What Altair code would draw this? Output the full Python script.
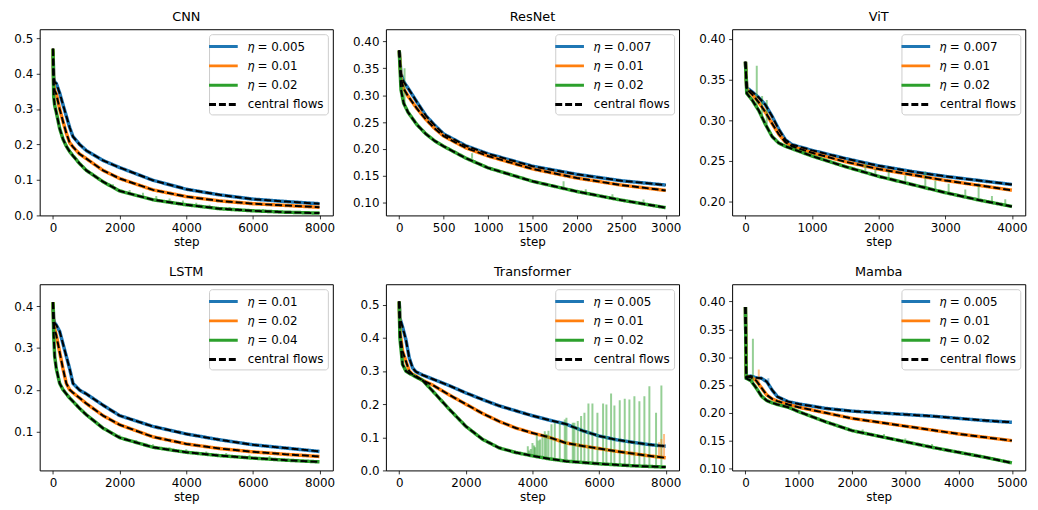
import altair as alt
import pandas as pd

BLUE, ORANGE, GREEN = "#1f77b4", "#ff7f0e", "#2ca02c"
FONT = "DejaVu Sans"
ETA = "𝜂"

# ---------------- CNN ----------------
CNN_LR = ["0.005", "0.01", "0.02"]
CNN_STEP = [0, 20, 50, 100, 200, 300, 400, 500, 600, 800, 1000, 1500, 2000, 3000, 4000, 5000, 6000, 7000, 8000]
CNN_B = [0.47, 0.39, 0.376, 0.372, 0.345, 0.312, 0.28, 0.248, 0.222, 0.2, 0.183, 0.155, 0.135, 0.099, 0.074, 0.058, 0.046, 0.039, 0.033]
CNN_O = [0.47, 0.37, 0.352, 0.342, 0.3, 0.265, 0.232, 0.205, 0.193, 0.173, 0.16, 0.127, 0.104, 0.072, 0.053, 0.041, 0.033, 0.028, 0.023]
CNN_G = [0.47, 0.335, 0.31, 0.29, 0.245, 0.215, 0.195, 0.18, 0.168, 0.146, 0.127, 0.095, 0.069, 0.044, 0.030, 0.019, 0.013, 0.009, 0.0065]
CNN_SPK_STEP = [1800, 2300, 2700, 3100, 3500, 3900, 4300, 4700, 5300, 6300]
CNN_SPK_BASE = [0.079, 0.06, 0.052, 0.042, 0.036, 0.031, 0.027, 0.022, 0.017, 0.012]
CNN_SPK_TOP = [0.088, 0.072, 0.064, 0.055, 0.048, 0.042, 0.036, 0.03, 0.024, 0.018]

# ---------------- ResNet ----------------
RES_LR = ["0.007", "0.01", "0.02"]
RES_STEP = [0, 20, 50, 100, 200, 300, 400, 500, 750, 1000, 1500, 2000, 2500, 3000]
RES_B = [0.383, 0.34, 0.325, 0.313, 0.287, 0.262, 0.244, 0.228, 0.206, 0.191, 0.168, 0.153, 0.141, 0.133]
RES_O = [0.383, 0.33, 0.312, 0.298, 0.275, 0.255, 0.238, 0.224, 0.202, 0.187, 0.163, 0.146, 0.133, 0.123]
RES_G = [0.383, 0.31, 0.285, 0.268, 0.245, 0.228, 0.215, 0.205, 0.183, 0.165, 0.14, 0.121, 0.105, 0.091]
RES_SPK_STEP = [60, 820, 1220, 1850, 2100, 2400, 2750]
RES_SPK_BASE = [0.28, 0.182, 0.152, 0.125, 0.118, 0.109, 0.1]
RES_SPK_TOP = [0.35, 0.192, 0.158, 0.14, 0.125, 0.116, 0.106]

# ---------------- ViT ----------------
VIT_LR = ["0.007", "0.01", "0.02"]
VIT_STEP = [0, 20, 100, 200, 300, 400, 500, 600, 700, 1000, 1500, 2000, 2500, 3000, 3500, 4000]
VIT_B = [0.372, 0.34, 0.335, 0.328, 0.319, 0.305, 0.289, 0.276, 0.27, 0.263, 0.253, 0.244, 0.237, 0.231, 0.226, 0.221]
VIT_O = [0.372, 0.338, 0.332, 0.322, 0.31, 0.296, 0.283, 0.273, 0.268, 0.26, 0.249, 0.24, 0.233, 0.226, 0.22, 0.214]
VIT_G = [0.372, 0.333, 0.325, 0.312, 0.295, 0.28, 0.272, 0.268, 0.265, 0.256, 0.243, 0.231, 0.221, 0.211, 0.202, 0.194]
VIT_SPK_STEP = [170, 250, 320, 1800, 1950, 2150, 2400, 2700, 2850, 3050, 3300, 3500, 3700, 3900]
VIT_SPK_BASE = [0.315, 0.305, 0.295, 0.235, 0.232, 0.227, 0.222, 0.216, 0.213, 0.209, 0.205, 0.202, 0.198, 0.195]
VIT_SPK_TOP = [0.367, 0.33, 0.325, 0.247, 0.24, 0.238, 0.232, 0.237, 0.226, 0.222, 0.215, 0.222, 0.207, 0.203]

# ---------------- LSTM ----------------
LSTM_LR = ["0.01", "0.02", "0.04"]
LSTM_STEP = [0, 20, 50, 100, 200, 300, 400, 500, 600, 800, 1000, 1500, 2000, 3000, 4000, 5000, 6000, 7000, 8000]
LSTM_B = [0.41, 0.37, 0.36, 0.355, 0.34, 0.31, 0.28, 0.25, 0.215, 0.199, 0.19, 0.163, 0.138, 0.112, 0.094, 0.08, 0.068, 0.06, 0.052]
LSTM_O = [0.41, 0.36, 0.345, 0.33, 0.29, 0.25, 0.215, 0.2, 0.193, 0.18, 0.167, 0.138, 0.116, 0.087, 0.07, 0.059, 0.051, 0.045, 0.04]
LSTM_G = [0.41, 0.33, 0.28, 0.25, 0.215, 0.2, 0.19, 0.18, 0.172, 0.155, 0.14, 0.108, 0.085, 0.062, 0.05, 0.042, 0.036, 0.031, 0.027]
LSTM_SPK_STEP = [2000, 2500, 3000, 3500, 4000, 4600, 5200, 5900, 6500]
LSTM_SPK_BASE = [0.085, 0.072, 0.062, 0.055, 0.05, 0.045, 0.041, 0.037, 0.034]
LSTM_SPK_TOP = [0.092, 0.079, 0.069, 0.062, 0.057, 0.052, 0.048, 0.044, 0.041]

# ---------------- Transformer ----------------
TRF_LR = ["0.005", "0.01", "0.02"]
TRF_STEP = [0, 20, 100, 200, 300, 400, 500, 700, 1000, 1500, 2000, 2500, 3000, 3500, 4000, 4500, 5000, 5500, 6000, 6500, 7000, 7500, 8000]
TRF_B = [0.51, 0.46, 0.433, 0.395, 0.34, 0.31, 0.298, 0.288, 0.276, 0.256, 0.234, 0.214, 0.195, 0.18, 0.165, 0.152, 0.14, 0.12, 0.104, 0.093, 0.085, 0.078, 0.073]
TRF_O = [0.51, 0.42, 0.36, 0.33, 0.3, 0.29, 0.285, 0.272, 0.258, 0.228, 0.2, 0.172, 0.148, 0.128, 0.113, 0.1, 0.083, 0.074, 0.066, 0.058, 0.051, 0.044, 0.038]
TRF_G = [0.51, 0.4, 0.32, 0.3, 0.293, 0.288, 0.282, 0.272, 0.24, 0.185, 0.133, 0.094, 0.068, 0.054, 0.044, 0.035, 0.028, 0.024, 0.02, 0.017, 0.014, 0.012, 0.01]
TRF_SPK_STEP = [3860, 3900, 3950, 4000, 4050, 4080, 4130, 4180, 4230, 4300, 4370, 4420, 4480, 4570, 4670, 4820, 4970, 5020,
                5210, 5260, 5360, 5460, 5560, 5680, 5800, 5950, 6120, 6220, 6360, 6460, 6620, 6770, 6910, 7060,
                7210, 7360, 7510, 7710, 7870]
TRF_SPK_BASE = [0.047, 0.046, 0.045, 0.044, 0.043, 0.043, 0.042, 0.041, 0.04, 0.039, 0.038, 0.037, 0.036, 0.035, 0.033, 0.031, 0.029, 0.028,
                0.026, 0.026, 0.025, 0.024, 0.023, 0.022, 0.021, 0.02, 0.019, 0.019, 0.018, 0.017, 0.016, 0.015, 0.014, 0.014,
                0.013, 0.012, 0.012, 0.011, 0.01]
TRF_SPK_TOP = [0.073, 0.06, 0.065, 0.083, 0.075, 0.07, 0.108, 0.09, 0.093, 0.1, 0.118, 0.11, 0.12, 0.139, 0.144, 0.144, 0.154, 0.159,
               0.144, 0.144, 0.149, 0.164, 0.174, 0.202, 0.202, 0.174, 0.202, 0.199, 0.232, 0.196, 0.212, 0.216, 0.214, 0.224,
               0.209, 0.224, 0.254, 0.174, 0.256]
TRF_OSPK_STEP = [7800, 7870, 7950]
TRF_OSPK_BASE = [0.04, 0.04, 0.039]
TRF_OSPK_TOP = [0.085, 0.095, 0.11]

# ---------------- Mamba ----------------
MAM_LR = ["0.005", "0.01", "0.02"]
MAM_STEP = [0, 15, 100, 200, 300, 400, 500, 600, 800, 1000, 1500, 2000, 2500, 3000, 3500, 4000, 4500, 5000]
MAM_B = [0.39, 0.265, 0.266, 0.263, 0.262, 0.256, 0.241, 0.229, 0.22, 0.216, 0.208, 0.203, 0.2, 0.197, 0.194, 0.19, 0.186, 0.183]
MAM_O = [0.39, 0.265, 0.264, 0.258, 0.245, 0.232, 0.225, 0.221, 0.215, 0.21, 0.2, 0.19, 0.183, 0.176, 0.169, 0.162, 0.156, 0.15]
MAM_G = [0.39, 0.262, 0.258, 0.245, 0.23, 0.222, 0.218, 0.215, 0.21, 0.202, 0.184, 0.168, 0.158, 0.148, 0.138, 0.129, 0.12, 0.11]
MAM_SPK_STEP = [140, 2200, 2600, 3000, 3500]
MAM_SPK_BASE = [0.258, 0.164, 0.156, 0.148, 0.138]
MAM_SPK_TOP = [0.333, 0.17, 0.162, 0.154, 0.144]
MAM_OSPK_STEP = [250]
MAM_OSPK_BASE = [0.25]
MAM_OSPK_TOP = [0.278]
MAM_BSPK_STEP = [430]
MAM_BSPK_BASE = [0.25]
MAM_BSPK_TOP = [0.262]


def xenc(field, xdom, xticks):
    return alt.X(f"{field}:Q", scale=alt.Scale(domain=xdom, nice=False, zero=False),
                 axis=alt.Axis(values=xticks, format="d", title="step"))


def yenc(field, ydom, yticks, yfmt):
    return alt.Y(f"{field}:Q", scale=alt.Scale(domain=ydom, nice=False, zero=False),
                 axis=alt.Axis(values=yticks, format=yfmt, title=None))


def panel(title, lrs, steps, curves, spikes, xdom, xticks, ydom, yticks, yfmt):
    labels = [f"{ETA} = {v}" for v in lrs]
    rows = []
    for lab, ls in zip(labels, curves):
        for s, l in zip(steps, ls):
            rows.append({"step": s, "loss": l, "label": lab, "grp": lab})
    df = pd.DataFrame(rows)
    dash = df.assign(label="central flows")
    domain = labels + ["central flows"]
    leg = alt.Legend(title=None, orient="top-right", offset=5,
                     symbolType="M-2.07,0H2.07", symbolSize=196, symbolStrokeWidth=3,
                     symbolOffset=2, labelOffset=16,
                     labelFontSize=12, labelFont=FONT, labelColor="black",
                     padding=4, rowPadding=4.5, labelLimit=300,
                     fillColor="rgba(255,255,255,0.8)", strokeColor="#cccccc", cornerRadius=3)
    color = alt.Color("label:N", scale=alt.Scale(domain=domain, range=[BLUE, ORANGE, GREEN, "black"]), legend=leg)
    sdash = alt.StrokeDash("label:N", scale=alt.Scale(domain=domain, range=[[1, 0], [1, 0], [1, 0], [7, 3]]), legend=leg)
    X = xenc("step", xdom, xticks)
    Y = yenc("loss", ydom, yticks, yfmt)

    lines = alt.Chart(df).mark_line(strokeWidth=3.5, clip=True).encode(
        x=X, y=Y, color=color, strokeDash=sdash, detail="grp:N")
    layers = [lines]
    for col, (sst, sbase, stop) in spikes:
        sp = pd.DataFrame({"step": sst, "base": sbase, "top": stop})
        layers.append(alt.Chart(sp).mark_rule(strokeWidth=2, opacity=0.5, color=col, clip=True).encode(
            x=X, y=yenc("top", ydom, yticks, yfmt), y2="base:Q"))
    flows = alt.Chart(dash).mark_line(strokeWidth=2, clip=True).encode(
        x=X, y=Y, color=color, strokeDash=sdash, detail="grp:N")
    layers.append(flows)
    return alt.layer(*layers).properties(
        width=296, height=188,
        title=alt.TitleParams(title, fontSize=13, font=FONT, fontWeight="normal", color="black", offset=5))


p_cnn = panel("CNN", CNN_LR, CNN_STEP, [CNN_B, CNN_O, CNN_G],
              [(GREEN, (CNN_SPK_STEP, CNN_SPK_BASE, CNN_SPK_TOP))],
              [-400, 8400], [0, 2000, 4000, 6000, 8000], [0, 0.525], [0, 0.1, 0.2, 0.3, 0.4, 0.5], ".1f")
p_res = panel("ResNet", RES_LR, RES_STEP, [RES_B, RES_O, RES_G],
              [(GREEN, (RES_SPK_STEP, RES_SPK_BASE, RES_SPK_TOP))],
              [-150, 3150], [0, 500, 1000, 1500, 2000, 2500, 3000], [0.0766, 0.4225],
              [0.10, 0.15, 0.20, 0.25, 0.30, 0.35, 0.40], ".2f")
p_vit = panel("ViT", VIT_LR, VIT_STEP, [VIT_B, VIT_O, VIT_G],
              [(GREEN, (VIT_SPK_STEP, VIT_SPK_BASE, VIT_SPK_TOP))],
              [-200, 4200], [0, 1000, 2000, 3000, 4000], [0.183, 0.412],
              [0.20, 0.25, 0.30, 0.35, 0.40], ".2f")
p_lstm = panel("LSTM", LSTM_LR, LSTM_STEP, [LSTM_B, LSTM_O, LSTM_G],
               [(GREEN, (LSTM_SPK_STEP, LSTM_SPK_BASE, LSTM_SPK_TOP))],
               [-400, 8400], [0, 2000, 4000, 6000, 8000], [0.0065, 0.453], [0.1, 0.2, 0.3, 0.4], ".1f")
p_trf = panel("Transformer", TRF_LR, TRF_STEP, [TRF_B, TRF_O, TRF_G],
              [(GREEN, (TRF_SPK_STEP, TRF_SPK_BASE, TRF_SPK_TOP)),
               (ORANGE, (TRF_OSPK_STEP, TRF_OSPK_BASE, TRF_OSPK_TOP))],
              [-400, 8400], [0, 2000, 4000, 6000, 8000], [0, 0.562], [0, 0.1, 0.2, 0.3, 0.4, 0.5], ".1f")
p_mam = panel("Mamba", MAM_LR, MAM_STEP, [MAM_B, MAM_O, MAM_G],
              [(GREEN, (MAM_SPK_STEP, MAM_SPK_BASE, MAM_SPK_TOP)),
               (ORANGE, (MAM_OSPK_STEP, MAM_OSPK_BASE, MAM_OSPK_TOP)),
               (BLUE, (MAM_BSPK_STEP, MAM_BSPK_BASE, MAM_BSPK_TOP))],
              [-250, 5250], [0, 1000, 2000, 3000, 4000, 5000], [0.0965, 0.431],
              [0.10, 0.15, 0.20, 0.25, 0.30, 0.35, 0.40], ".2f")

chart = alt.concat(p_cnn, p_res, p_vit, p_lstm, p_trf, p_mam, columns=3,
                   spacing={"row": 69.5, "column": 53.6}, bounds="flush").resolve_scale(
    color="independent", strokeDash="independent", x="independent", y="independent").resolve_legend(
    color="independent", strokeDash="independent").properties(
    padding={"left": 5, "top": 0, "right": 2, "bottom": 2}
).configure(font=FONT).configure_view(stroke="black", strokeWidth=1).configure_axis(
    domain=False, grid=False, tickColor="black", tickSize=3.5, tickWidth=0.8,
    labelFont=FONT, labelFontSize=12, labelColor="black", labelPadding=3.5,
    titleFont=FONT, titleFontSize=12, titleFontWeight="normal", titleColor="black", titlePadding=3)

chart.save("out.html", embed_options={"renderer": "svg", "actions": False})
